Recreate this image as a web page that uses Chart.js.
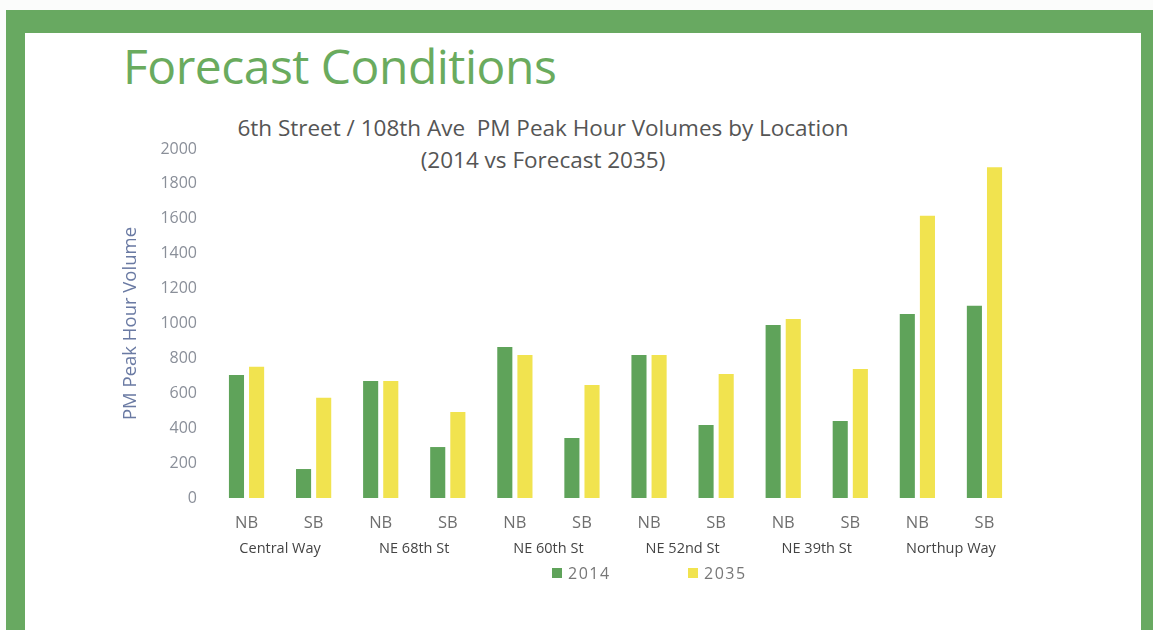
<!DOCTYPE html>
<html>
<head>
<meta charset="utf-8">
<script src="https://cdn.jsdelivr.net/npm/chart.js@4/dist/chart.umd.min.js"></script>
<style>
  html, body { margin: 0; padding: 0; width: 1153px; height: 630px; overflow: hidden; background: #fbfcfb; }
  #frame { position: absolute; left: 6px; top: 10px; right: 0; bottom: 0; background: #68a961; }
  #inner { position: absolute; left: 25px; top: 33px; width: 1116px; height: 597px; background: #ffffff; }
  #heading { position: absolute; left: 123px; top: 33px; font-family: "Open Sans", sans-serif; font-size: 48px; font-weight: 400; color: #6aab5e; letter-spacing: -0.5px; white-space: nowrap; }
  .ctitle { position: absolute; width: 800px; left: 143px; text-align: center; font-family: "Open Sans", sans-serif; font-size: 22.5px; color: #555; white-space: nowrap; line-height: 30px; }
  #t1 { top: 113px; }
  #t2 { top: 145px; }
  #c { position: absolute; left: 0; top: 0; }
</style>
</head>
<body>
<div id="frame"></div>
<div id="inner"></div>
<div id="heading">Forecast Conditions</div>
<div class="ctitle" id="t1">6th Street / 108th Ave&nbsp; PM Peak Hour Volumes by Location</div>
<div class="ctitle" id="t2">(2014 vs Forecast 2035)</div>
<canvas id="c" width="1153" height="630"></canvas>
<script>
const categories = ['NB','SB','NB','SB','NB','SB','NB','SB','NB','SB','NB','SB'];
const groups = ['Central Way','NE 68th St','NE 60th St','NE 52nd St','NE 39th St','Northup Way'];
const vol2014 = [705,166,670,292,865,344,820,418,991,441,1054,1102];
const vol2035 = [752,575,670,493,820,648,820,711,1026,739,1618,1895];
const seriesNames = ['2014','2035'];
const yTicks = [0,200,400,600,800,1000,1200,1400,1600,1800,2000];

const GREEN = '#5fa35a';
const YELLOW = '#f1e34f';
const FONT = '"Open Sans", sans-serif';

const customLegend = {
  id: 'customLegend',
  afterDraw(chart) {
    const ctx = chart.ctx;
    const xs = [552, 688];
    const y = 573;
    ctx.save();
    ctx.font = '16px ' + FONT;
    ctx.letterSpacing = '1.5px';
    ctx.textBaseline = 'middle';
    ctx.textAlign = 'left';
    chart.data.datasets.forEach((ds, i) => {
      ctx.fillStyle = ds.backgroundColor;
      ctx.fillRect(xs[i], y - 5, 10, 10);
      ctx.fillStyle = '#777';
      ctx.fillText(ds.label, xs[i] + 16, y + 1);
    });
    ctx.restore();
  }
};

new Chart(document.getElementById('c'), {
  type: 'bar',
  data: {
    labels: categories,
    datasets: [
      { label: seriesNames[0], data: vol2014, backgroundColor: GREEN, barPercentage: 0.75, categoryPercentage: 0.6 },
      { label: seriesNames[1], data: vol2035, backgroundColor: YELLOW, barPercentage: 0.75, categoryPercentage: 0.6 }
    ]
  },
  options: {
    responsive: false,
    animation: false,
    layout: { padding: { left: 0, right: 135, top: 149, bottom: 71 } },
    plugins: {
      legend: { display: false },
      title: { display: false },
      tooltip: { enabled: false }
    },
    scales: {
      x: {
        type: 'category',
        position: 'bottom',
        weight: 0,
        afterFit(scale) { scale.height = 36; },
        grid: { display: false, drawTicks: false },
        border: { display: false },
        ticks: { padding: 15, color: '#6f6f6f', font: { family: FONT, size: 16.5 } }
      },
      x2: {
        type: 'category',
        labels: groups,
        position: 'bottom',
        weight: 1,
        offset: true,
        afterFit(scale) { scale.height = 25; },
        grid: { display: false, drawTicks: false },
        border: { display: false },
        ticks: { padding: 6, color: '#444', font: { family: FONT, size: 14.5 } }
      },
      y: {
        min: 0,
        max: 2000,
        afterBuildTicks(scale) { scale.ticks = yTicks.map(v => ({ value: v })); },
        afterFit(scale) { scale.width = 213; },
        grid: { display: false, drawTicks: false },
        border: { display: false },
        ticks: { padding: 16, color: '#8a8f99', font: { family: FONT, size: 16 }, callback: v => String(v) },
        title: {
          display: true,
          text: 'PM Peak Hour Volume',
          color: '#6a7aa3',
          font: { family: FONT, size: 18.5 },
          padding: { top: 120, bottom: 0 }
        }
      }
    }
  },
  plugins: [customLegend]
});
</script>
</body>
</html>
